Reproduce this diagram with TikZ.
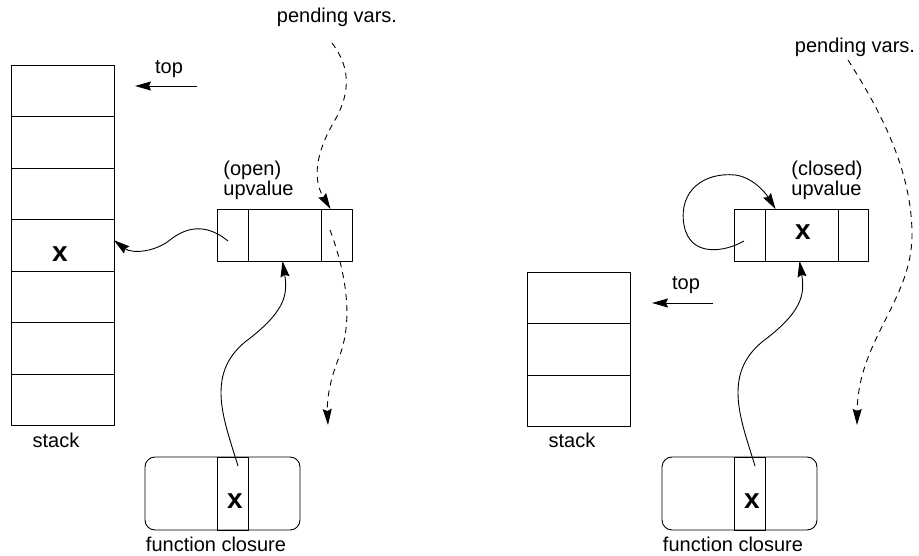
\documentclass[tikz,border=0pt]{standalone}
\usepackage{fontspec}
\setmainfont{Liberation Sans}
\usetikzlibrary{arrows.meta,positioning}
\begin{document}
\begin{tikzpicture}[x=1pt,y=-1pt,line width=0.9pt,line join=round,
    font=\fontsize{20}{18}\selectfont,
    arr/.style={-{Stealth[length=16pt,width=9pt,inset=2pt]}},
    cell/.style={draw,minimum width=103pt,minimum height=51.5pt,inner sep=0pt,outer sep=0pt,anchor=north west},
    ucell/.style={draw,minimum width=#1,minimum height=52pt,inner sep=0pt,outer sep=0pt},
    clos/.style={draw,rounded corners=10pt,minimum width=155pt,minimum height=73pt,inner sep=0pt},
    ccell/.style={draw,minimum width=31pt,minimum height=73pt,inner sep=0pt},
    lbl/.style={inner sep=0pt,anchor=base},
    bx/.style={inner sep=0pt,anchor=base,font=\fontsize{28}{28}\selectfont\bfseries},
    pend/.style={arr,dash pattern=on 6pt off 5pt}]
    \useasboundingbox (0,0) rectangle (919,556);
    % open upvalue
    \foreach \i in {1,...,7}
        \node[cell] (s\i) at (11,{65+(\i-1)*51.5}) {};
    \node[bx] (sx) at (60,262) {x};
    \node[lbl] (st) at (56,447) {stack};
    \node[lbl] (tp) at (169,74) {top};
    \coordinate (tpa) at (197,86); \coordinate (tpb) at (135,86);
    \draw[arr] (tpa)--(tpb);
    \node[ucell=31pt,anchor=north west] (u1) at (217,209) {};
    \node[ucell=73pt,right=0pt of u1] (u2) {};
    \node[ucell=31pt,right=0pt of u2] (u3) {};
    \node[inner sep=0pt,align=left,anchor=south west] (uo) at (223,200) {(open)\\upvalue};
    \node[clos] (cl) at (222.5,493.5) {};
    \node[ccell] (cx) at (232.5,493.5) {};
    \node[bx] (clx) at (235,508) {x};
    \node[lbl] (cll) at (216,551) {function closure};
    \node[lbl] (pv) at (337,23) {pending vars.};
    \coordinate (p1) at (228,241); \coordinate (p2) at (238,466);
    \coordinate (pa) at (332,43); \coordinate (pb) at (330,230); \coordinate (pc) at (328,425);
    \draw[arr] (p1) .. controls (205,222) and (185,228) .. (170,240) .. controls (155,252) and (132,254) .. ([yshift=5pt]s4.east);
    \draw[arr] (p2) .. controls (224,420) and (205,375) .. (245,342) .. controls (285,312) and (288,295) .. ([xshift=-2pt]u2.south);
    \draw[pend] (pa) .. controls (345,60) and (355,85) .. (335,120) .. controls (320,145) and (310,175) .. ([xshift=-6pt]u3.north);
    \draw[pend] (pb) .. controls (345,270) and (355,320) .. (338,360) .. controls (328,385) and (327,405) .. (pc);
    % closed upvalue
    \foreach \i in {1,2,3}
        \node[cell] (rs\i) at (527,{272+(\i-1)*51.5}) {};
    \node[lbl] (rst) at (572,447) {stack};
    \node[lbl] (rtp) at (686,290) {top};
    \coordinate (rtpa) at (713,303); \coordinate (rtpb) at (652,303);
    \draw[arr] (rtpa)--(rtpb);
    \node[ucell=31pt,anchor=north west] (ru1) at (734,209) {};
    \node[ucell=73pt,right=0pt of ru1] (ru2) {};
    \node[ucell=30pt,right=0pt of ru2] (ru3) {};
    \node[bx] (rux) at (803,240) {x};
    \node[inner sep=0pt,align=left,anchor=south west] (ruc) at (791,200) {(closed)\\upvalue};
    \node[clos] (rcl) at (739.5,493.5) {};
    \node[ccell] (rcx) at (749.5,493.5) {};
    \node[bx] (rclx) at (752,508) {x};
    \node[lbl] (rcll) at (733,551) {function closure};
    \node[lbl] (rpv) at (855,53) {pending vars.};
    \coordinate (rp1) at (744,241); \coordinate (rp2) at (755,466);
    \coordinate (rpa) at (848,60); \coordinate (rpc) at (857,425);
    \draw[arr] (rp1) .. controls (725,252) and (690,258) .. (684,225) .. controls (678,190) and (705,172) .. (735,175) .. controls (752,177) and (765,192) .. ([xshift=-26pt]ru2.north);
    \draw[arr] (rp2) .. controls (741,420) and (722,375) .. (762,342) .. controls (802,312) and (805,295) .. ([xshift=-2pt]ru2.south);
    \draw[pend] (rpa) .. controls (880,110) and (912,170) .. (912,235) .. controls (912,300) and (858,340) .. (rpc);
\end{tikzpicture}
\end{document}
